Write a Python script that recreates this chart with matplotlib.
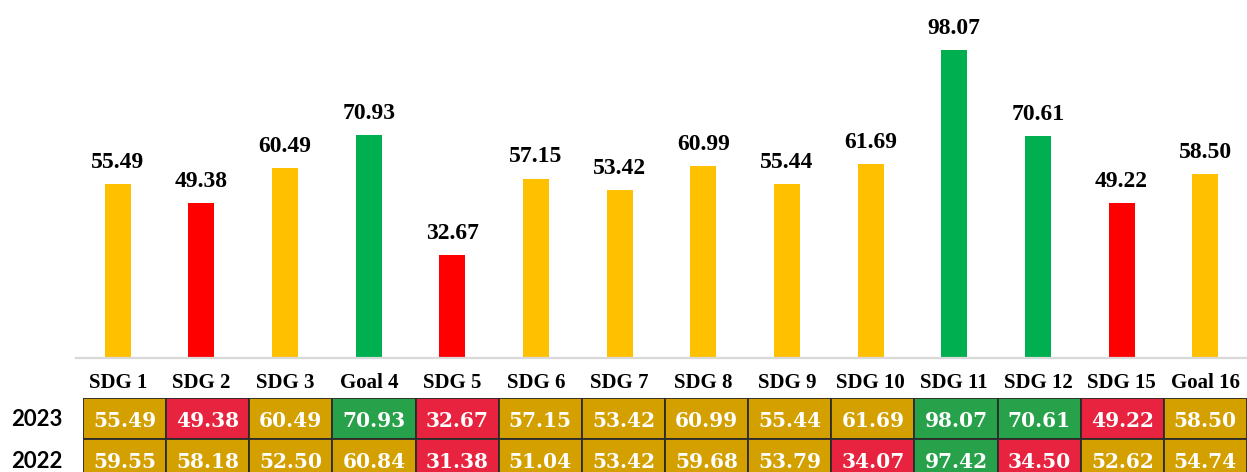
import matplotlib
matplotlib.use("Agg")
import matplotlib.pyplot as plt
from matplotlib.patches import Rectangle

# data
goals = ["SDG 1", "SDG 2", "SDG 3", "Goal 4", "SDG 5", "SDG 6", "SDG 7",
         "SDG 8", "SDG 9", "SDG 10", "SDG 11", "SDG 12", "SDG 15", "Goal 16"]
score_2023 = [55.49, 49.38, 60.49, 70.93, 32.67, 57.15, 53.42,
              60.99, 55.44, 61.69, 98.07, 70.61, 49.22, 58.50]
score_2022 = [59.55, 58.18, 52.50, 60.84, 31.38, 51.04, 53.42,
              59.68, 53.79, 34.07, 97.42, 34.50, 52.62, 54.74]
status_2023 = ["amber", "red", "amber", "green", "red", "amber", "amber",
               "amber", "amber", "amber", "green", "green", "red", "amber"]
status_2022 = ["amber", "amber", "amber", "amber", "red", "amber", "amber",
               "amber", "amber", "red", "green", "red", "amber", "amber"]
years = ["2023", "2022"]

bar_col = {"amber": "#FFC000", "red": "#FF0000", "green": "#00B050"}
cell_col = {"amber": "#D4A000", "red": "#E8233F", "green": "#27A24A"}

W, H = 1247, 472
fig = plt.figure(figsize=(W / 100, H / 100), dpi=100)

# bar chart: baseline at y=358 px, from x=76 px to the right edge
ax = fig.add_axes([76 / W, (H - 358) / H, 1 - 76 / W, 358 / H])
x = range(len(goals))
bars = ax.bar(x, score_2023, width=0.31, color=[bar_col[s] for s in status_2023])
ax.bar_label(bars, labels=[f"{v:.2f}" for v in score_2023], padding=8,
             fontsize=17, fontweight="bold", family="Liberation Serif")
ax.set_xlim(-0.5, len(goals) - 0.5)
ax.set_ylim(0, 114)
ax.set_yticks([])
ax.set_xticks(list(x))
ax.set_xticklabels(goals, fontsize=15, fontweight="bold", family="Liberation Serif")
ax.tick_params(axis="x", length=0, pad=11)
ax.spines[["top", "right", "left"]].set_visible(False)
ax.spines["bottom"].set_color("#D9D9D9")
ax.spines["bottom"].set_linewidth(1.6)

# score table under the chart
row_h = 41
tab = fig.add_axes([83 / W, 0, 1 - 83 / W, (H - 398) / H])
tab.set_xlim(0, len(goals))
tab.set_ylim((H - 398) / row_h, 0)
tab.axis("off")
for r, (vals, stat) in enumerate([(score_2023, status_2023), (score_2022, status_2022)]):
    for c, (v, s) in enumerate(zip(vals, stat)):
        tab.add_patch(Rectangle((c, r), 1, 1, facecolor=cell_col[s],
                                edgecolor="#2b2b2b", linewidth=1.3, clip_on=True))
        tab.text(c + 0.5, r + 0.55, f"{v:.2f}", ha="center", va="center",
                 color="white", fontsize=14.5, fontweight="bold", family="DejaVu Serif")

for r, yr in enumerate(years):
    fig.text(37 / W, (H - 419 - r * 43) / H, yr, ha="center", va="center",
             fontsize=16, fontweight="bold", family="Lato")

fig.savefig("out.png", dpi=100)
